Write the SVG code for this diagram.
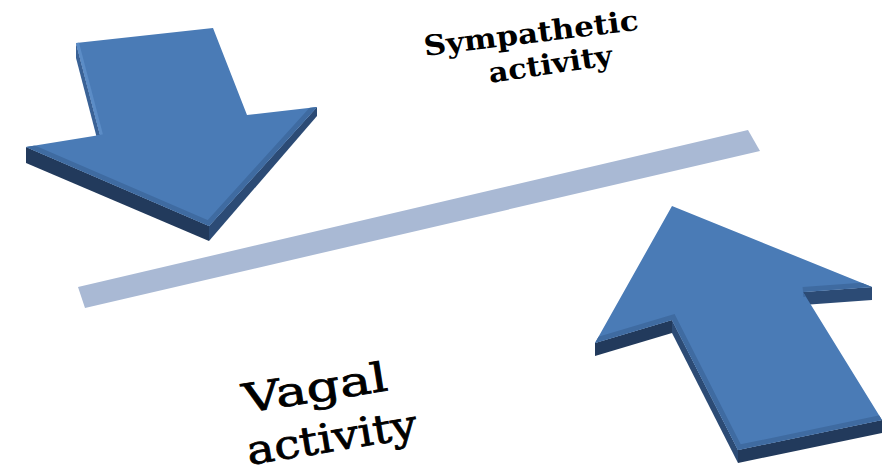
<svg xmlns="http://www.w3.org/2000/svg" width="887" height="476" viewBox="0 0 887 476">
<style>
.top{fill:#4a7bb6}
.s1{fill:#223a5c}
.s2{fill:#2c4b75}
.s3{fill:#3a6296}
.bev{fill:none;stroke:#3f6ba1;stroke-width:10;stroke-linejoin:miter}
.hl{fill:none;stroke:#5b8cc6;stroke-width:6}
.lbl{font-family:"DejaVu Serif","Liberation Serif",serif;font-weight:bold;fill:#000}
.lbl2{font-family:"DejaVu Serif","Liberation Serif",serif;font-weight:normal;fill:#000;stroke:#000;stroke-width:0.8}
</style>
<defs>
<clipPath id="cl"><polygon points="76,43 213,28 247,115 317,107 209,226 26,147 100,135"/></clipPath>
<clipPath id="cr"><polygon points="672,206 872,287 803,292 882,420 738,450 672,320 595,343"/></clipPath>
</defs>
<rect width="887" height="476" fill="#fff"/>
<g id="bar"><polygon points="78,287 748,130 760,151 85,308" fill="#a9b9d4"/></g>
<g id="arrow-down">
<polygon class="s3" points="76,43 100,135 100,150 76,58"/>
<polygon class="s1" points="26,147 209,226 209,241 26,163"/>
<polygon class="s2" points="209,226 317,107 317,116 209,241"/>
<polygon class="top" points="76,43 213,28 247,115 317,107 209,226 26,147 100,135"/>
<g clip-path="url(#cl)">
<polyline class="bev" points="26,147 209,226 317,107"/>
<polyline class="hl" points="76,43 100,135"/>
</g>
</g>
<g id="arrow-up">
<polygon class="s1" points="595,343 672,320 672,333 595,356"/>
<polygon class="s2" points="672,320 738,450 738,463 672,333"/>
<polygon class="s1" points="738,450 882,420 882,433 738,463"/>
<polygon class="s2" points="803,292 872,287 872,300 803,305"/>
<polygon class="top" points="672,206 872,287 803,292 882,420 738,450 672,320 595,343"/>
<g clip-path="url(#cr)">
<polyline class="bev" points="595,343 672,320 738,450 882,420"/>
<polyline class="bev" points="803,292 872,287"/>
</g>
</g>
<g id="label-sympathetic">
<text class="lbl" x="425" y="56" font-size="28" textLength="216" lengthAdjust="spacingAndGlyphs" transform="rotate(-7 425 56)">Sympathetic</text>
<text class="lbl" x="490" y="83" font-size="28" textLength="125" lengthAdjust="spacingAndGlyphs" transform="rotate(-8.5 490 83)">activity</text>
</g>
<g id="label-vagal">
<text class="lbl2" x="245" y="413" font-size="40" textLength="146" lengthAdjust="spacingAndGlyphs" transform="rotate(-9 245 413)">Vagal</text>
<text class="lbl2" x="249" y="465" font-size="40" textLength="172" lengthAdjust="spacingAndGlyphs" transform="rotate(-9.3 249 465)">activity</text>
</g>
</svg>
